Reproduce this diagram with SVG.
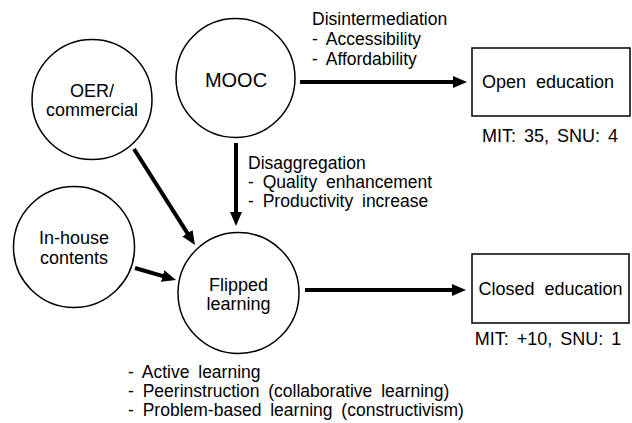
<svg xmlns="http://www.w3.org/2000/svg" width="632" height="423" viewBox="0 0 632 423">
<style>
  .node { fill: #fff; stroke: #000; stroke-width: 1.5; }
  .t { font-family: "Liberation Sans", Arial, sans-serif; font-size: 18px; fill: #000; word-spacing: 3px; }
  .lbl { font-family: "Liberation Sans", Arial, sans-serif; font-size: 17.5px; fill: #000; word-spacing: 4px; }
  .c { text-anchor: middle; }
  .edge { stroke: #000; stroke-width: 4; fill: none; marker-end: url(#ah); }
</style>
<defs>
  <marker id="ah" markerUnits="userSpaceOnUse" markerWidth="14" markerHeight="12" refX="4" refY="6" orient="auto">
    <path d="M0,0 L14,6 L0,12 z" fill="#000"/>
  </marker>
</defs>
<rect width="632" height="423" fill="#fff"/>
<g id="connectors">
  <line class="edge" x1="300" y1="82" x2="457" y2="82"/>
  <line class="edge" x1="236" y1="143" x2="236" y2="216"/>
  <line class="edge" x1="134" y1="149" x2="189.6" y2="236.6"/>
  <line class="edge" x1="135" y1="268" x2="166.4" y2="277.2"/>
  <line class="edge" x1="305" y1="290" x2="456" y2="290"/>
</g>
<g id="mooc">
  <circle class="node" cx="235.5" cy="78" r="59.5"/>
  <text class="t c" x="236" y="87" style="font-size:20px">MOOC</text>
</g>
<g id="oer">
  <circle class="node" cx="92" cy="99.5" r="60"/>
  <text class="t c" x="92" y="97">OER/</text>
  <text class="t c" x="92" y="116">commercial</text>
</g>
<g id="inhouse">
  <circle class="node" cx="74" cy="247" r="60.5"/>
  <text class="t c" x="74" y="244">In-house</text>
  <text class="t c" x="74" y="264">contents</text>
</g>
<g id="flipped">
  <circle class="node" cx="238.5" cy="293" r="60.5"/>
  <text class="t c" x="238.5" y="291">Flipped</text>
  <text class="t c" x="238.5" y="310">learning</text>
</g>
<g id="open">
  <rect class="node" x="472" y="48" width="158" height="68"/>
  <text class="t c" x="548" y="88" style="word-spacing:5px">Open education</text>
  <text class="t c" x="550" y="142">MIT: 35, SNU: 4</text>
</g>
<g id="closed">
  <rect class="node" x="472" y="254" width="157" height="69"/>
  <text class="t c" x="550.5" y="295" style="word-spacing:5px">Closed education</text>
  <text class="t c" x="548" y="345">MIT: +10, SNU: 1</text>
</g>
<g id="labels">
  <text class="lbl" x="312" y="25">Disintermediation</text>
  <text class="lbl" x="312" y="45">- Accessibility</text>
  <text class="lbl" x="312" y="65">- Affordability</text>
  <text class="lbl" x="248" y="169">Disaggregation</text>
  <text class="lbl" x="248" y="188">- Quality enhancement</text>
  <text class="lbl" x="248" y="207">- Productivity increase</text>
  <text class="lbl" x="128" y="378">- Active learning</text>
  <text class="lbl" x="128" y="397">- Peerinstruction (collaborative learning)</text>
  <text class="lbl" x="128" y="416">- Problem-based learning (constructivism)</text>
</g>
</svg>
